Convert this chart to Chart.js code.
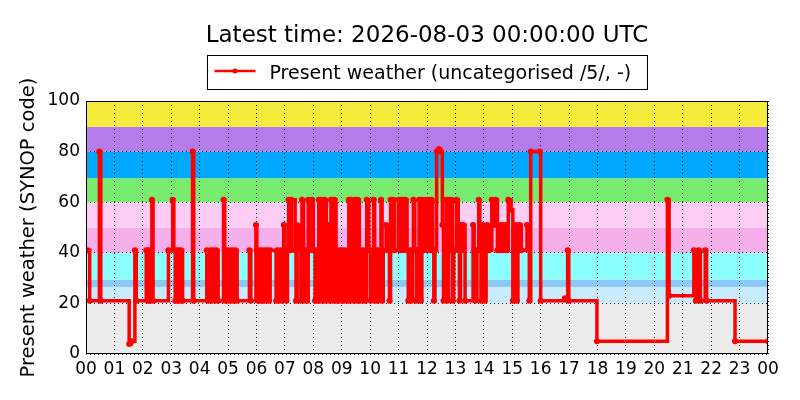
<!DOCTYPE html>
<html>
<head>
<meta charset="utf-8">
<title>Present weather</title>
<script src="https://cdn.jsdelivr.net/npm/chart.js@4.4.1/dist/chart.umd.min.js"></script>
<style>
  html, body { margin: 0; padding: 0; background: #fff; }
</style>
</head>
<body>
<canvas id="weatherChart" width="800" height="400"></canvas>
<script>
const chartTitle = 'Latest time: 2026-08-03 00:00:00 UTC';
const seriesLabel = 'Present weather (uncategorised /5/, -)';
const yAxisTitle = 'Present weather (SYNOP code)';

// tick labels
const hourTicks = ['00', '01', '02', '03', '04', '05', '06', '07', '08', '09', '10', '11',
    '12', '13', '14', '15', '16', '17', '18', '19', '20', '21', '22', '23', '00'];
const codeTicks = [0, 20, 40, 60, 80, 100];

// background bands of SYNOP code groups
const bandFrom = [0, 20, 26.5, 29.3, 40, 50, 60, 69.5, 80, 89.8];
const bandTo = [20, 26.5, 29.3, 40, 50, 60, 69.5, 80, 89.8, 100];
const bandColours = ['#ebebeb', '#c8ebff', '#8cc8f5', '#8cffff', '#f5b0ec',
    '#fdcdf5', '#78eb6e', '#00a8ff', '#b47deb', '#f5eb3c'];

// observations: hour of day and present weather code
const obsHours = [
    0.05, 0.13, 0.47, 0.52, 1.52, 1.60, 1.72, 1.77, 2.12, 2.17, 2.20, 2.25, 2.28, 2.32, 2.36,
    2.90, 3.05, 3.09, 3.14, 3.17, 3.22, 3.26, 3.31, 3.34, 3.40, 3.75, 3.79,
    4.25, 4.30, 4.38, 4.42, 4.47, 4.55, 4.58, 4.65, 4.84, 4.88, 4.96,
    5.00, 5.04, 5.10, 5.15, 5.20, 5.25, 5.32, 5.75, 5.80, 5.98,
    6.01, 6.05, 6.09, 6.14, 6.18, 6.24, 6.28, 6.34, 6.38, 6.44, 6.48, 6.69, 6.74, 6.78, 6.86, 6.90, 6.96,
    7.00, 7.05, 7.09, 7.13, 7.20, 7.23, 7.36, 7.39, 7.43, 7.52, 7.56, 7.60, 7.66, 7.72, 7.78, 7.82, 7.90, 7.94,
    8.00, 8.06, 8.10, 8.16, 8.19, 8.24, 8.28, 8.33, 8.36, 8.40, 8.46, 8.50, 8.54, 8.58, 8.62, 8.66,
    8.70, 8.74, 8.80, 8.84, 8.88, 8.94, 8.98,
    9.02, 9.08, 9.12, 9.22, 9.25, 9.30, 9.33, 9.38, 9.42, 9.46, 9.52, 9.56, 9.62, 9.66, 9.72, 9.76,
    9.82, 9.88, 9.95,
    10.02, 10.05, 10.12, 10.16, 10.22, 10.26, 10.30, 10.38, 10.42, 10.46, 10.56, 10.60, 10.68, 10.72,
    10.78, 10.82, 10.86,
    11.00, 11.08, 11.12, 11.20, 11.24, 11.30, 11.34, 11.40, 11.44, 11.48, 11.52, 11.57, 11.62, 11.66,
    11.72, 11.78, 11.82, 11.87, 11.96,
    12.02, 12.06, 12.12, 12.16, 12.20, 12.24, 12.28, 12.34, 12.42, 12.48, 12.54, 12.58, 12.63, 12.67,
    12.72, 12.76, 12.82, 12.86, 12.90, 12.94,
    13.04, 13.10, 13.14, 13.18, 13.22, 13.28, 13.34, 13.62, 13.66, 13.70, 13.76, 13.82, 13.86, 13.90, 13.96,
    14.02, 14.08, 14.12, 14.18, 14.28, 14.36, 14.42, 14.48, 14.52, 14.58, 14.64, 14.70, 14.76, 14.82,
    14.86, 14.96,
    15.02, 15.06, 15.12, 15.16, 15.20, 15.26, 15.32, 15.52, 15.60, 15.65, 15.97,
    16.00, 16.85, 16.95, 16.99, 17.98, 20.46, 20.52,
    21.39, 21.46, 21.56, 21.62, 21.79, 21.84, 22.84, 24.00
];
const obsCodes = [
    41, 21, 80, 21, 4, 5, 41, 21, 41, 21, 41, 21, 41, 61, 21,
    41, 61, 41, 21, 41, 21, 41, 21, 41, 21, 80, 21,
    41, 21, 41, 21, 41, 21, 41, 21, 61, 21, 41,
    21, 41, 21, 41, 21, 41, 21, 41, 21, 51,
    41, 21, 41, 21, 41, 21, 41, 21, 41, 21, 41, 21, 41, 21, 41, 21, 51,
    41, 21, 41, 61, 41, 61, 41, 21, 51, 41, 21, 61, 21, 41, 21, 61, 41, 61,
    41, 21, 41, 21, 61, 21, 61, 41, 21, 61, 21, 41, 51, 21, 61, 21,
    51, 61, 21, 41, 21, 41, 21,
    41, 21, 41, 21, 61, 21, 61, 41, 21, 61, 21, 61, 21, 41, 21, 41,
    21, 61, 41,
    21, 41, 61, 21, 41, 21, 41, 61, 21, 41, 51, 41, 21, 61,
    41, 61, 41,
    61, 41, 61, 41, 61, 41, 21, 41, 21, 41, 61, 41, 21, 41,
    61, 21, 61, 41, 61,
    41, 61, 41, 61, 41, 21, 41, 80, 81, 80, 51, 21, 41, 61,
    21, 61, 41, 61, 21, 41,
    61, 41, 21, 51, 41, 51, 21, 51, 41, 21, 41, 61, 41, 21, 51,
    21, 41, 51, 41, 61, 51, 61, 41, 51, 41, 51, 41, 51, 41,
    61, 57,
    21, 41, 51, 21, 41, 51, 41, 51, 21, 80, 80,
    21, 22, 41, 21, 5, 61, 23,
    41, 21, 41, 21, 41, 21, 5, 5
];

const fontFamily = '"DejaVu Sans", "Liberation Sans", sans-serif';

const bandsPlugin = {
    id: 'bands',
    beforeDraw(chart) {
        const { ctx, chartArea, scales } = chart;
        ctx.save();
        ctx.fillStyle = '#ffffff';
        ctx.fillRect(0, 0, chart.width, chart.height);
        bandFrom.forEach((from, i) => {
            const yTop = scales.y.getPixelForValue(bandTo[i]);
            const yBottom = scales.y.getPixelForValue(from);
            ctx.fillStyle = bandColours[i];
            ctx.fillRect(chartArea.left, yTop, chartArea.right - chartArea.left, yBottom - yTop);
        });
        ctx.restore();
    }
};

// frame round the axes, plus title and boxed legend centred over the axes
const framePlugin = {
    id: 'frame',
    afterDraw(chart) {
        const { ctx, chartArea } = chart;
        ctx.save();
        ctx.strokeStyle = '#000';
        ctx.lineWidth = 1;
        ctx.strokeRect(chartArea.left + 0.5, chartArea.top + 0.5,
            chartArea.right - chartArea.left - 1, chartArea.bottom - chartArea.top - 1);

        const cx = (chartArea.left + chartArea.right) / 2;
        ctx.fillStyle = '#000';
        ctx.textAlign = 'center';
        ctx.textBaseline = 'alphabetic';
        ctx.font = '23px ' + fontFamily;
        ctx.fillText(chartTitle, cx, 42);

        ctx.font = '19px ' + fontFamily;
        const textWidth = ctx.measureText(seriesLabel).width;
        const boxWidth = textWidth + 78;
        const left = Math.round(cx - boxWidth / 2) + 0.5;
        ctx.strokeRect(left, 55.5, Math.round(boxWidth), 34);

        ctx.strokeStyle = '#ff0000';
        ctx.lineWidth = 2.5;
        ctx.beginPath();
        ctx.moveTo(left + 7, 71);
        ctx.lineTo(left + 48, 71);
        ctx.stroke();
        ctx.fillStyle = '#ff0000';
        ctx.beginPath();
        ctx.arc(left + 27.5, 71, 2.5, 0, Math.PI * 2);
        ctx.fill();

        ctx.fillStyle = '#000';
        ctx.textAlign = 'left';
        ctx.fillText(seriesLabel, left + 62, 78.5);
        ctx.restore();
    }
};

const ctx = document.getElementById('weatherChart').getContext('2d');

const chart = new Chart(ctx, {
    type: 'line',
    data: {
        datasets: [{
            label: seriesLabel,
            data: obsHours.map((h, i) => ({ x: h, y: obsCodes[i] })),
            borderColor: '#ff0000',
            backgroundColor: '#ff0000',
            borderWidth: 3.5,
            pointRadius: 3,
            pointBorderWidth: 0,
            pointBackgroundColor: '#ff0000',
            stepped: true,
            fill: false
        }]
    },
    options: {
        responsive: false,
        animation: false,
        events: [],
        layout: {
            padding: { top: 101, right: 32, left: 0, bottom: 0 }
        },
        plugins: {
            legend: { display: false },
            title: { display: false },
            tooltip: { enabled: false }
        },
        scales: {
            x: {
                type: 'linear',
                min: 0,
                max: 24,
                afterFit: (scale) => { scale.height = 46; },
                ticks: {
                    stepSize: 1,
                    autoSkip: false,
                    maxRotation: 0,
                    padding: 5,
                    color: '#000',
                    font: { family: fontFamily, size: 17 },
                    callback: (value) => hourTicks[value]
                },
                grid: { color: 'rgba(0,0,0,0.85)', lineWidth: 1, drawTicks: false },
                border: { display: false, dash: [1, 3] }
            },
            y: {
                min: 0,
                max: 100,
                afterFit: (scale) => { scale.width = 86; },
                afterBuildTicks: (scale) => { scale.ticks = codeTicks.map(v => ({ value: v })); },
                ticks: {
                    padding: 6,
                    color: '#000',
                    font: { family: fontFamily, size: 17 }
                },
                title: {
                    display: true,
                    text: yAxisTitle,
                    color: '#000',
                    font: { family: fontFamily, size: 19.5 },
                    padding: { top: 17, bottom: 0 }
                },
                grid: { color: 'rgba(0,0,0,0.85)', lineWidth: 1, drawTicks: false },
                border: { display: false, dash: [1, 3] }
            }
        }
    },
    plugins: [bandsPlugin, framePlugin]
});
</script>
</body>
</html>
